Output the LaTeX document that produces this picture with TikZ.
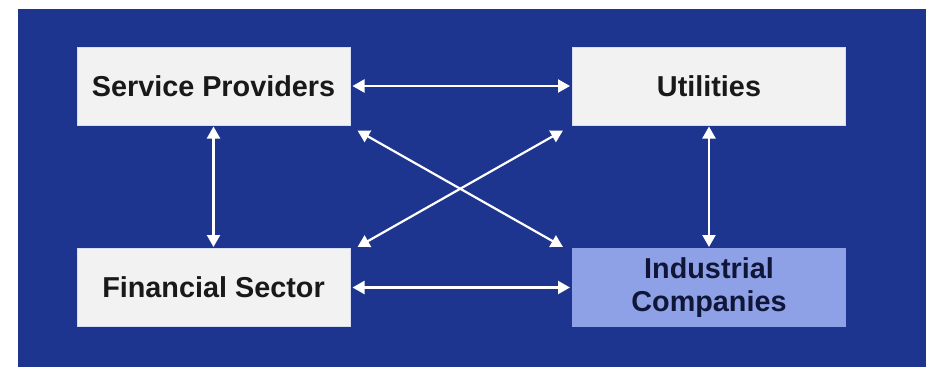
\documentclass[tikz,border=0pt]{standalone}
\usepackage{fontspec}
\setmainfont{Liberation Sans}
\usetikzlibrary{arrows.meta}
\definecolor{bgblue}{HTML}{1E3590}
\definecolor{boxgray}{HTML}{F2F2F2}
\definecolor{boxedge}{HTML}{D8DCF0}
\definecolor{hilite}{HTML}{8EA0E6}
\definecolor{darknavy}{HTML}{101638}
\tikzset{
  sector/.style={draw=boxedge, line width=1pt, fill=boxgray, minimum width=273pt,
    minimum height=78pt, inner sep=0pt, align=center,
    font=\fontsize{28.8}{33}\selectfont\bfseries, text=black!90},
  link/.style={draw=white, line width=2.2pt,
    {Triangle[width=13pt,length=12pt]}-{Triangle[width=13pt,length=12pt]}},
}
\begin{document}
\begin{tikzpicture}[x=1pt,y=-1pt]
  \useasboundingbox (0,0) rectangle (938,367);
  \fill[white] (0,0) rectangle (938,367);
  \fill[bgblue] (18,9) rectangle (926,367);

  \node[sector] (sp) at (213.5,86) {Service Providers};
  \node[sector] (ut) at (709,86) {Utilities};
  \node[sector] (fs) at (213.5,287.5) {Financial Sector};
  \node[sector, fill=hilite, draw=hilite, text=darknavy] (ic) at (709,287.5) {Industrial\\Companies};

  % horizontal links
  \draw[link] ([xshift=2pt]sp.east) -- ([xshift=-2pt]ut.west);
  \draw[link] ([xshift=2pt]fs.east) -- ([xshift=-2pt]ic.west);
  % vertical links
  \draw[link] ([yshift=-1pt]sp.south) -- ([yshift=1pt]fs.north);
  \draw[link] ([yshift=-1pt]ut.south) -- ([yshift=1pt]ic.north);
  % diagonal links
  \draw[link] ([shift={(7pt,-5pt)}]sp.south east) -- ([shift={(-9pt,1pt)}]ic.north west);
  \draw[link] ([shift={(-9pt,-5pt)}]ut.south west) -- ([shift={(7pt,1pt)}]fs.north east);
\end{tikzpicture}
\end{document}
